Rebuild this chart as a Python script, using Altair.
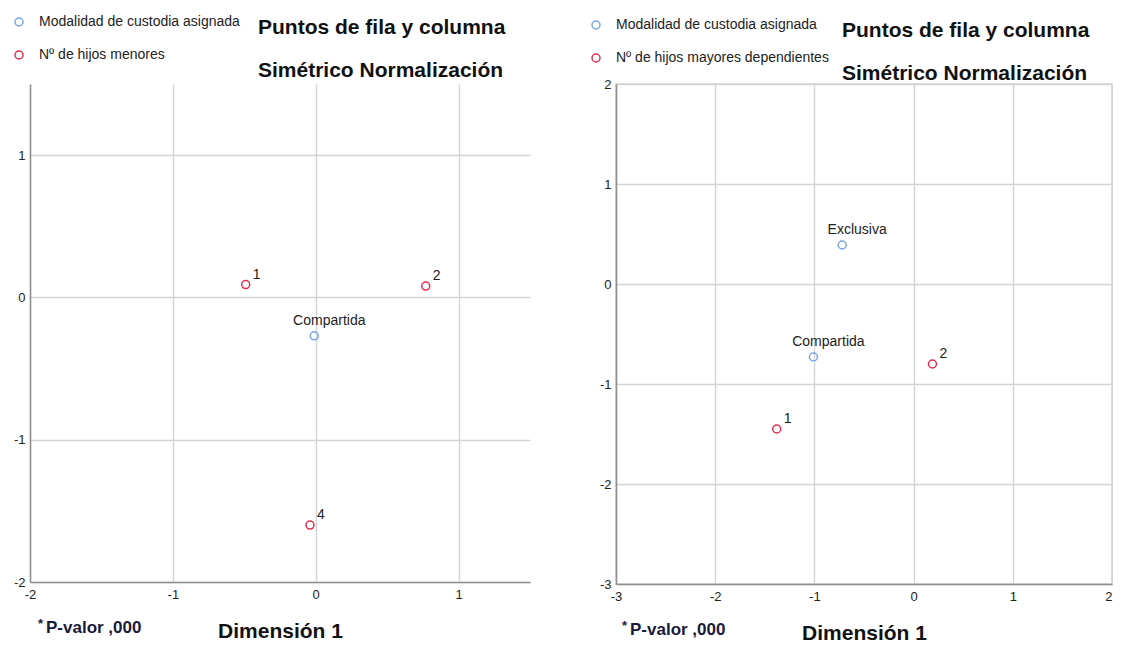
import altair as alt
import pandas as pd

FONT = "Liberation Sans"
BLUE = "#78a5e6"
RED = "#e0304e"
GRID = "#d4d4d4"
AXIS = "#8f8f8f"

GRUPO_FILA = "Modalidad de custodia asignada"
TITULO_1 = "Puntos de fila y columna"
TITULO_2 = "Simétrico Normalización"
EJE_X = "Dimensión 1"
NOTA = "P-valor ,000"

# Panel izquierdo
izq_etiquetas = ["1", "2", "4", "Compartida"]
izq_dim1 = [-0.49, 0.77, -0.04, -0.01]
izq_dim2 = [0.09, 0.08, -1.60, -0.27]
izq_grupo_col = "Nº de hijos menores"
izq_grupos = [izq_grupo_col, izq_grupo_col, izq_grupo_col, GRUPO_FILA]
izq_ticks = [-2, -1, 0, 1]
izq_dominio = [-2, 1.5]

# Panel derecho
der_etiquetas = ["Exclusiva", "Compartida", "1", "2"]
der_dim1 = [-0.72, -1.01, -1.38, 0.19]
der_dim2 = [0.39, -0.73, -1.45, -0.80]
der_grupo_col = "Nº de hijos mayores dependientes"
der_grupos = [GRUPO_FILA, GRUPO_FILA, der_grupo_col, der_grupo_col]
der_ticks = [-3, -2, -1, 0, 1, 2]
der_dominio = [-3, 2]


def panel(etq, d1, d2, grupos, grupo_col, dom, ticks, w, h, stroke,
          leg_x, leg_y, tit_x, tit_y1, tit_y2, nota_x):
    df = pd.DataFrame({"etiqueta": etq, "dim1": d1, "dim2": d2, "grupo": grupos})
    df["tipo"] = ["fila" if g == GRUPO_FILA else "col" for g in grupos]

    ax_common = dict(values=ticks, grid=True, gridColor=GRID, gridWidth=1.4,
                     domainColor=AXIS, domainWidth=1.5, ticks=False, tickSize=0,
                     labelFont=FONT, labelFontSize=13, labelColor="#222",
                     labelFlush=False, labelOverlap=False,
                     labelExpr="'' + datum.value")
    last = dom[1]
    x = alt.X("dim1:Q", scale=alt.Scale(domain=dom, nice=False, zero=False),
              axis=alt.Axis(title=EJE_X, titleFont=FONT, titleFontSize=21,
                            titleFontWeight="bold", titleColor="#111",
                            titleBaseline="alphabetic", titleY=55,
                            labelPadding=6,
                            labelAlign={"expr": f"datum.value == {last} ? 'right' : 'center'"},
                            **ax_common))
    y = alt.Y("dim2:Q", scale=alt.Scale(domain=dom, nice=False, zero=False),
              axis=alt.Axis(title=None, labelPadding=5, **ax_common))
    color = alt.Color(
        "grupo:N",
        scale=alt.Scale(domain=[GRUPO_FILA, grupo_col], range=[BLUE, RED]),
        legend=alt.Legend(title=None, orient="none", legendX=leg_x, legendY=leg_y,
                          padding=0, rowPadding=19, labelFont=FONT, labelFontSize=14,
                          labelColor="#222", labelOffset=13, labelLimit=400,
                          symbolType="circle", symbolSize=64, symbolStrokeWidth=1.5),
    )
    base = alt.Chart(df)
    pts = base.mark_point(shape="circle", filled=False, size=64, strokeWidth=1.5,
                          opacity=1).encode(x=x, y=y, color=color)
    lab_fila = base.transform_filter(alt.datum.tipo == "fila").mark_text(
        align="center", baseline="alphabetic", dx=15, dy=-11, fontSize=14,
        font=FONT, color="#222").encode(x=x, y=y, text="etiqueta:N")
    lab_col = base.transform_filter(alt.datum.tipo == "col").mark_text(
        align="left", baseline="alphabetic", dx=7, dy=-6, fontSize=14,
        font=FONT, color="#222").encode(x=x, y=y, text="etiqueta:N")

    t1 = alt.Chart(pd.DataFrame({"t": [TITULO_1]})).mark_text(
        align="left", baseline="alphabetic", fontSize=21, fontWeight="bold",
        font=FONT, color="#111").encode(x=alt.value(tit_x), y=alt.value(tit_y1), text="t:N")
    t2 = alt.Chart(pd.DataFrame({"t": [TITULO_2]})).mark_text(
        align="left", baseline="alphabetic", fontSize=21, fontWeight="bold",
        font=FONT, color="#111").encode(x=alt.value(tit_x), y=alt.value(tit_y2), text="t:N")
    ast = alt.Chart(pd.DataFrame({"t": ["*"]})).mark_text(
        align="left", baseline="alphabetic", fontSize=13, fontWeight="bold",
        font=FONT, color="#1a1a3a").encode(x=alt.value(nota_x - 8), y=alt.value(h + 46), text="t:N")
    nota = alt.Chart(pd.DataFrame({"t": [NOTA]})).mark_text(
        align="left", baseline="alphabetic", fontSize=17, fontWeight="bold",
        font=FONT, color="#1a1a3a").encode(x=alt.value(nota_x), y=alt.value(h + 51), text="t:N")

    return alt.layer(pts, lab_fila, lab_col, t1, t2, ast, nota).properties(
        width=w, height=h,
        view=alt.ViewBackground(stroke=stroke, strokeWidth=1.5),
    )


izq = panel(izq_etiquetas, izq_dim1, izq_dim2, izq_grupos, izq_grupo_col,
            izq_dominio, izq_ticks, 500, 498, "transparent",
            -18, -69, 228, -50, -7, 16)
der = panel(der_etiquetas, der_dim1, der_dim2, der_grupos, der_grupo_col,
            der_dominio, der_ticks, 496, 500, GRID,
            -27, -66, 226, -47, -4, 14)

chart = alt.hconcat(izq, der, spacing=57).resolve_scale(
    color="independent").resolve_legend(color="independent").configure(
    font=FONT, padding={"left": 3, "top": 6, "right": 0, "bottom": 0})

chart.save("out.html", embed_options={"renderer": "svg", "actions": False})
